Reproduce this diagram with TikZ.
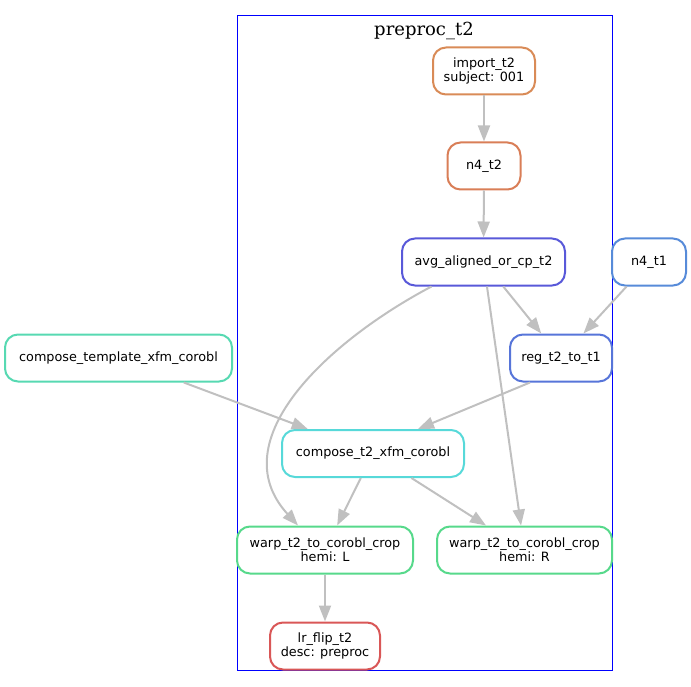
\documentclass[tikz,border=0pt]{standalone}
\usepackage{fontspec}
\setsansfont{DejaVu Sans}
\newfontfamily\clusterfont{DejaVu Serif}
\usepackage{tikz}
\usetikzlibrary{arrows.meta,backgrounds,calc}
\definecolor{cImport}{HTML}{D98B57}
\definecolor{cNfourT}{HTML}{D97E57}
\definecolor{cAvg}{HTML}{5959D9}
\definecolor{cNfourO}{HTML}{578BD9}
\definecolor{cReg}{HTML}{5775D9}
\definecolor{cTempl}{HTML}{57D9B2}
\definecolor{cCompose}{HTML}{57D9D9}
\definecolor{cWarp}{HTML}{57D98B}
\definecolor{cFlip}{HTML}{D95757}
\definecolor{cEdge}{HTML}{C0C0C0}
\definecolor{cCluster}{HTML}{0000FF}
\tikzset{
  rulebox/.style={
    draw, rounded corners=13pt, line width=2pt, fill=white,
    minimum height=47pt, inner sep=2pt, align=center,
    font=\sffamily\fontsize{12.8}{13.6}\selectfont,
  },
  edge/.style={
    -{Triangle[length=16pt,width=12pt]}, line width=2pt, draw=cEdge,
  },
  clusterbox/.style={
    draw=cCluster, line width=1pt,
  },
  clustertitle/.style={
    font=\clusterfont\fontsize{18}{20}\selectfont, inner sep=0pt,
  },
}

\begin{document}
\begin{tikzpicture}[x=1pt,y=-1pt]

\useasboundingbox (0,0) rectangle (691,687);

% ═══════════════════════════════════════════════════════════════
%  CLUSTER  preproc_t2
% ═══════════════════════════════════════════════════════════════
\node[clusterbox, minimum width=375pt, minimum height=654pt] (preproc) at (424.5,343) {};
\node[clustertitle] (preprocTitle) at (424,31) {preproc\_t2};

% ── rules inside the cluster ──
\node[rulebox, draw=cImport, minimum width=102pt] (import) at (484,71)
  {import\_t2\\subject: 001};
\node[rulebox, draw=cNfourT, minimum width=73pt] (nfourT) at (484,166)
  {n4\_t2};
\node[rulebox, draw=cAvg, minimum width=163pt] (avg) at (483.5,262)
  {avg\_aligned\_or\_cp\_t2};
\node[rulebox, draw=cReg, minimum width=102pt] (reg) at (561,358)
  {reg\_t2\_to\_t1};
\node[rulebox, draw=cCompose, minimum width=182pt] (compose) at (373,453.5)
  {compose\_t2\_xfm\_corobl};
\node[rulebox, draw=cWarp, minimum width=176pt] (warpL) at (325,550)
  {warp\_t2\_to\_corobl\_crop\\hemi: L};
\node[rulebox, draw=cWarp, minimum width=175pt] (warpR) at (524.5,550)
  {warp\_t2\_to\_corobl\_crop\\hemi: R};
\node[rulebox, draw=cFlip, minimum width=110pt] (flip) at (325,646)
  {lr\_flip\_t2\\desc: preproc};

% ── rules outside the cluster ──
\node[rulebox, draw=cNfourO, minimum width=74pt] (nfourO) at (649,262)
  {n4\_t1};
\node[rulebox, draw=cTempl, minimum width=227pt] (templ) at (118.5,358)
  {compose\_template\_xfm\_corobl};

% ═══════════════════════════════════════════════════════════════
%  EDGES
% ═══════════════════════════════════════════════════════════════
\draw[edge] (import) -- (nfourT);
\draw[edge] (nfourT) -- (avg);
\draw[edge] (avg) -- (reg);
\draw[edge] (nfourO) -- (reg);
\draw[edge] ([xshift=-52pt]avg.south) .. controls (330,340) and (220,440) .. ([xshift=-27pt]warpL.north);
\draw[edge] (avg) -- (warpR);
\draw[edge] ([xshift=-31pt]reg.south) -- ([xshift=45pt]compose.north);
\draw[edge] (templ) -- (compose);
\draw[edge] (compose) -- (warpL);
\draw[edge] (compose) -- (warpR);
\draw[edge] (warpL) -- (flip);

\end{tikzpicture}
\end{document}
